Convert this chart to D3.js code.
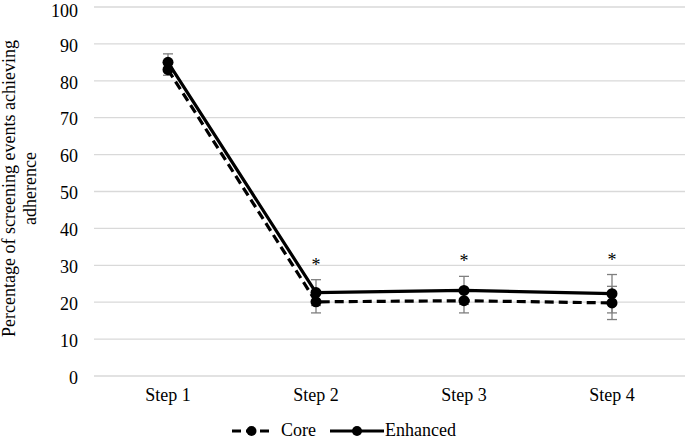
<!DOCTYPE html>
<html>
<head>
<meta charset="utf-8">
<script src="https://cdn.jsdelivr.net/npm/d3@7"></script>
<style>
body { margin: 0; background: #fff; }
svg text { font-family: "Liberation Serif", "Times New Roman", Times, serif; fill: #000; }
</style>
</head>
<body>
<script>
// data
var steps = ["Step 1", "Step 2", "Step 3", "Step 4"];
var coreValues = [83, 20.1, 20.4, 19.8];
var coreErr = [1.5, 3, 3.3, 4.5];
var enhancedValues = [85, 22.6, 23.2, 22.3];
var enhancedErr = [2.3, 3.5, 3.8, 5.2];
var starred = ["Step 2", "Step 3", "Step 4"];
var yTicks = [0, 10, 20, 30, 40, 50, 60, 70, 80, 90, 100];

var width = 685, height = 440;
var margin = {top: 7, right: 0, bottom: 64, left: 94};
var fontSize = 18;

var svg = d3.select("body").append("svg")
	.attr("width", width)
	.attr("height", height);

var xScale = d3.scaleBand()
	.domain(steps)
	.range([margin.left, margin.left + 148 * 4]);

var yScale = d3.scaleLinear()
	.domain([0, 100])
	.range([height - margin.bottom, margin.top]);

// grid lines
svg.append("g")
	.selectAll("line")
	.data(yTicks)
	.enter().append("line")
	.attr("x1", margin.left)
	.attr("x2", width)
	.attr("y1", function(d){ return yScale(d); })
	.attr("y2", function(d){ return yScale(d); })
	.attr("stroke", "#d9d9d9")
	.attr("stroke-width", 1.3);

// y axis
var yAxis = d3.axisLeft(yScale).tickValues(yTicks).tickSize(0).tickPadding(16);
svg.append("g")
	.attr("transform", "translate(" + margin.left + ",0)")
	.call(yAxis)
	.attr("font-family", "Liberation Serif")
	.attr("font-size", fontSize)
	.call(function(g){ g.select(".domain").remove(); })
	.selectAll("text")
	.attr("dy", function(d){ return d === 100 ? "0.52em" : "0.4em"; });

// x axis
var xAxis = d3.axisBottom(xScale).tickSize(0).tickPadding(12);
svg.append("g")
	.attr("transform", "translate(0," + yScale(0) + ")")
	.call(xAxis)
	.attr("font-family", "Liberation Serif")
	.attr("font-size", fontSize)
	.call(function(g){ g.select(".domain").remove(); });

// y label
var yLab = svg.append("text")
	.attr("transform", "translate(14.5,188.5) rotate(-90)")
	.attr("text-anchor", "middle")
	.attr("font-size", fontSize);
yLab.append("tspan").attr("x", 0).attr("dy", 0).text("Percentage of screening events achieving");
yLab.append("tspan").attr("x", 0).attr("dy", 21).text("adherence");

function cx(d, i){ return xScale(steps[i]) + xScale.bandwidth() / 2; }

var series = [
	{name: "Core", values: coreValues, err: coreErr, dash: "9,5"},
	{name: "Enhanced", values: enhancedValues, err: enhancedErr, dash: null}
];

// error bars
series.forEach(function(s){
	var g = svg.append("g").attr("stroke", "#7f7f7f").attr("stroke-width", 1.3);
	s.values.forEach(function(v, i){
		var x = cx(v, i);
		g.append("line").attr("x1", x).attr("x2", x)
			.attr("y1", yScale(v - s.err[i])).attr("y2", yScale(v + s.err[i]));
		[v - s.err[i], v + s.err[i]].forEach(function(e){
			g.append("line").attr("x1", x - 5).attr("x2", x + 5)
				.attr("y1", yScale(e)).attr("y2", yScale(e));
		});
	});
});

var line = d3.line()
	.x(cx)
	.y(function(d){ return yScale(d); });

series.forEach(function(s){
	svg.append("path")
		.datum(s.values)
		.attr("d", line)
		.attr("fill", "none")
		.attr("stroke", "#000")
		.attr("stroke-width", 3.2)
		.attr("stroke-dasharray", s.dash);
	svg.append("g")
		.selectAll("circle")
		.data(s.values)
		.enter().append("circle")
		.attr("cx", cx)
		.attr("cy", function(d){ return yScale(d); })
		.attr("r", 5.5)
		.attr("fill", "#000");
});

// asterisks
svg.append("g")
	.selectAll("text")
	.data(starred)
	.enter().append("text")
	.attr("x", function(d){ return xScale(d) + xScale.bandwidth() / 2; })
	.attr("y", function(d){
		var i = steps.indexOf(d);
		return yScale(enhancedValues[i] + enhancedErr[i]) - 9;
	})
	.attr("text-anchor", "middle")
	.attr("font-size", fontSize)
	.text("*");

// legend
var legend = svg.append("g").attr("transform", "translate(0,431)");
var items = [
	{s: series[0], x1: 232, x2: 271, tx: 281},
	{s: series[1], x1: 330, x2: 384, tx: 385}
];
items.forEach(function(it){
	legend.append("line")
		.attr("x1", it.x1).attr("x2", it.x2)
		.attr("y1", 0).attr("y2", 0)
		.attr("stroke", "#000").attr("stroke-width", 3.2)
		.attr("stroke-dasharray", it.s.dash);
	legend.append("circle")
		.attr("cx", (it.x1 + it.x2) / 2).attr("cy", 0).attr("r", 5).attr("fill", "#000");
	legend.append("text")
		.attr("x", it.tx).attr("y", -1).attr("dy", "0.33em")
		.attr("font-size", fontSize)
		.text(it.s.name);
});
</script>
</body>
</html>
